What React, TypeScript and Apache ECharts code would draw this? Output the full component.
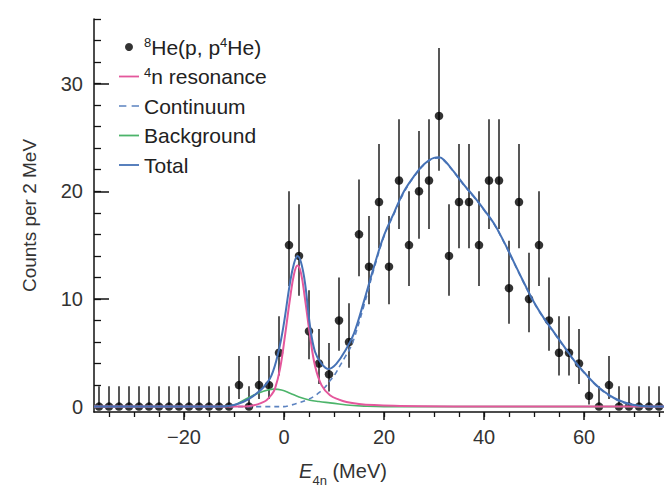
import React, { useEffect, useRef } from "react";
import * as echarts from "echarts";

// ---- data points (bin centres, MeV) ----
const energy = [
  -37, -35, -33, -31, -29, -27, -25, -23, -21, -19, -17, -15, -13, -11,
  -9, -7, -5, -3, -1, 1, 3, 5, 7, 9, 11, 13, 15, 17, 19, 21, 23, 25, 27, 29,
  31, 33, 35, 37, 39, 41, 43, 45, 47, 49, 51, 53, 55, 57, 59, 61, 63, 65, 67,
  69, 71, 73, 75,
];
const counts = [
  0, 0, 0, 0, 0, 0, 0, 0, 0, 0, 0, 0, 0, 0,
  2, 0, 2, 2, 5, 15, 14, 7, 4, 3, 8, 6, 16, 13, 19, 13, 21, 15, 20, 21,
  27, 14, 19, 19, 15, 21, 21, 11, 19, 10, 15, 8, 5, 5, 4, 1, 0, 2, 0,
  0, 0, 0, 0,
];
const barLow = [
  0, 0, 0, 0, 0, 0, 0, 0, 0, 0, 0, 0, 0, 0,
  0.7, 0, 0.7, 0.7, 2.9, 11.2, 10.3, 4.4, 2.1, 1.4, 5.2, 3.6, 12.1, 9.5, 14.7, 9.5, 16.5, 11.2, 15.6, 16.5,
  21.9, 10.3, 14.7, 14.7, 11.2, 16.5, 16.5, 7.7, 14.7, 6.9, 11.2, 5.2, 2.9, 2.9, 2.1, 0.2, 0, 0.7, 0,
  0, 0, 0, 0,
];
const barHigh = [
  1.9, 1.9, 1.9, 1.9, 1.9, 1.9, 1.9, 1.9, 1.9, 1.9, 1.9, 1.9, 1.9, 1.9,
  4.7, 1.9, 4.7, 4.7, 8.4, 20.0, 18.8, 10.8, 7.2, 5.9, 12.0, 9.6, 21.1, 17.7, 24.4, 17.7, 26.7, 20.0, 25.6, 26.7,
  33.3, 18.8, 24.4, 24.4, 20.0, 26.7, 26.7, 15.4, 24.4, 14.3, 20.0, 12.0, 8.4, 8.4, 7.2, 3.3, 1.9, 4.7, 1.9,
  1.9, 1.9, 1.9, 1.9,
];

// ---- fitted curves ----
const resX = [-38, -8, -6, -4.5, -3.5, -2.5, -1.8, -0.8, 0.2, 1.2, 2, 2.7, 3.4, 4.2, 5.2, 6.2, 7.5, 9.2, 11, 12.5, 15, 18, 22, 28, 40, 76];
const resY = [0, 0, 0.12, 0.35, 0.6, 1.1, 1.67, 3.5, 6.6, 10, 12.3, 13.1, 12.4, 10, 6.6, 3.8, 2.0, 1.05, 0.65, 0.43, 0.25, 0.14, 0.07, 0.03, 0, 0];

const bgX = [-38, -12, -10, -8.8, -6.8, -4.5, -2.1, -0.5, 1.2, 3, 5.2, 7, 9.2, 11, 13.2, 16, 20, 76];
const bgY = [0, 0, 0.12, 0.4, 0.9, 1.35, 1.62, 1.55, 1.25, 0.9, 0.6, 0.47, 0.35, 0.25, 0.13, 0.05, 0, 0];

const contX = [-38, 0, 1.2, 2.5, 4.5, 6, 7.2, 8.2, 9.2, 10.2, 11.2, 12.2, 13.2, 14, 16, 18, 20, 22, 24, 26, 28, 30, 31, 32, 34, 36, 38, 40, 42, 44, 46, 48, 50, 52, 54, 56, 58, 60, 62, 64, 66, 68, 70, 72, 74, 76];
const contY = [0, 0, 0.12, 0.28, 0.6, 0.95, 1.36, 1.8, 2.4, 3.0, 3.8, 4.6, 5.4, 6.3, 9.4, 12.8, 15.8, 17.9, 19.9, 21.35, 22.45, 23.05, 23.1, 22.85, 21.75, 20.55, 19.45, 18.25, 16.95, 15.25, 13.35, 11.45, 9.65, 8.15, 6.85, 5.55, 4.25, 3.15, 2.15, 1.35, 0.75, 0.35, 0.1, 0.02, 0, 0];

const totalX = [-38, -14, -12, -10, -8.1, -6.1, -4.1, -2.5, -1.1, -0.1, 1.2, 2, 2.7, 3.4, 4.2, 5.2, 6.2, 7.5, 8.9, 10.5, 12.5, 14, 16, 18, 20, 22, 24, 26, 28, 30, 31, 32, 34, 36, 38, 40, 42, 44, 46, 48, 50, 52, 54, 56, 58, 60, 62, 64, 66, 68, 70, 72, 74, 76];
const totalY = [0, 0, 0.03, 0.15, 0.45, 1.0, 1.8, 2.9, 5.1, 7.5, 11.5, 13.3, 14.0, 13.4, 11.5, 7.5, 5.1, 4.0, 3.5, 4.0, 5.4, 6.8, 9.8, 13.0, 15.9, 18.0, 20.0, 21.4, 22.5, 23.1, 23.15, 22.9, 21.8, 20.6, 19.5, 18.3, 17.0, 15.3, 13.4, 11.5, 9.7, 8.2, 6.9, 5.6, 4.3, 3.2, 2.2, 1.4, 0.8, 0.4, 0.15, 0.05, 0, 0];

// ---- ticks ----
const xMajorTicks = [-20, 0, 20, 40, 60];
const xMinorTicks = [-35, -30, -25, -20, -15, -10, -5, 0, 5, 10, 15, 20, 25, 30, 35, 40, 45, 50, 55, 60, 65, 70, 75];
const yMajorTicks = [0, 10, 20, 30];
const yMinorTicks = [0, 2, 4, 6, 8, 10, 12, 14, 16, 18, 20, 22, 24, 26, 28, 30, 32, 34, 36];

const NAME_DATA = "8He(p, p4He)";
const NAME_RES = "4n resonance";
const NAME_CONT = "Continuum";
const NAME_BG = "Background";
const NAME_TOTAL = "Total";

const FONT = "'Liberation Sans', Arial, Helvetica, sans-serif";
const PINK = "#e4579c";
const BLUE = "#4672b6";
const DASH = "#5b82c0";
const GREEN = "#4cb46a";

const ICON_LINE = "path://M0,0H20V1.8H0Z";
const ICON_DASH = "path://M0,0H7V1.6H0Z M12,0H19V1.6H12Z";

const zip = (xs: number[], ys: number[]) => xs.map((x, i) => [x, ys[i]]);

export default function App() {
  const ref = useRef<HTMLDivElement>(null);
  useEffect(() => {
    if (!ref.current) return;
    const chart = echarts.init(ref.current, undefined, { renderer: "svg" });
    const lineBase = {
      type: "line" as const,
      showSymbol: false,
      symbol: "none",
      smooth: 0.4,
      z: 5,
      silent: true,
    };
    chart.setOption({
      animation: false,
      backgroundColor: "#ffffff",
      textStyle: { fontFamily: FONT },
      grid: { left: 94, right: 0, top: 19, bottom: 78.6, containLabel: false },
      legend: {
        orient: "vertical",
        left: 119,
        top: 36,
        padding: 0,
        itemGap: 7.5,
        itemWidth: 20,
        itemHeight: 8,
        itemStyle: { borderWidth: 0 },
        data: [
          { name: NAME_DATA, icon: "circle", itemStyle: { color: "#000" } },
          { name: NAME_RES, icon: ICON_LINE, itemStyle: { color: PINK } },
          { name: NAME_CONT, icon: ICON_DASH, itemStyle: { color: DASH } },
          { name: NAME_BG, icon: ICON_LINE, itemStyle: { color: GREEN } },
          { name: NAME_TOTAL, icon: ICON_LINE, itemStyle: { color: BLUE } },
        ],
        formatter: (name: string) => {
          if (name === NAME_DATA) return "{sup|8}He(p, p{sup|4}He)";
          if (name === NAME_RES) return "{sup|4}n resonance";
          return name;
        },
        textStyle: {
          fontFamily: FONT,
          fontSize: 21,
          color: "#222",
          lineHeight: 22,
          rich: {
            sup: { fontFamily: FONT, fontSize: 13, color: "#222", lineHeight: 13, verticalAlign: "top" },
          },
        },
      },
      xAxis: [
        {
          type: "value",
          min: -38,
          max: 76,
          position: "bottom",
          axisLine: { show: true, onZero: false, lineStyle: { color: "#111", width: 1.5 } },
          axisTick: { show: true, inside: false, length: 8, customValues: xMajorTicks, lineStyle: { color: "#111", width: 1.5 } },
          axisLabel: {
            customValues: xMajorTicks,
            fontFamily: FONT,
            fontSize: 20,
            color: "#333",
            margin: 15,
            formatter: (v: number) => (v < 0 ? "\u2212" + Math.abs(v) : String(v)),
          },
          splitLine: { show: false },
          name: "{it|E}{sub|4n} (MeV)",
          nameLocation: "middle",
          nameGap: 48,
          nameTextStyle: {
            fontFamily: FONT,
            fontSize: 20,
            color: "#333",
            lineHeight: 22,
            padding: [0, 72, 0, 0],
            rich: {
              it: { fontFamily: FONT, fontSize: 20, fontStyle: "italic", color: "#333", lineHeight: 22 },
              sub: { fontFamily: FONT, fontSize: 13, color: "#333", lineHeight: 13, verticalAlign: "bottom", padding: [0, 0, -5, 0] },
            },
          },
        },
        {
          type: "value",
          min: -38,
          max: 76,
          position: "bottom",
          axisLine: { show: false, onZero: false },
          axisTick: { show: true, inside: false, length: 5, customValues: xMinorTicks, lineStyle: { color: "#111", width: 1.3 } },
          axisLabel: { show: false },
          splitLine: { show: false },
        },
      ],
      yAxis: [
        {
          type: "value",
          min: -0.5,
          max: 36,
          position: "left",
          axisLine: { show: true, onZero: false, lineStyle: { color: "#111", width: 1.5 } },
          axisTick: { show: true, inside: true, length: 15, customValues: yMajorTicks, lineStyle: { color: "#111", width: 1.5 } },
          axisLabel: { customValues: yMajorTicks, fontFamily: FONT, fontSize: 20, color: "#333", margin: 11 },
          splitLine: { show: false },
          name: "Counts per 2 MeV",
          nameLocation: "middle",
          nameGap: 55,
          nameTextStyle: { fontFamily: FONT, fontSize: 19, color: "#333" },
        },
        {
          type: "value",
          min: -0.5,
          max: 36,
          position: "left",
          axisLine: { show: false, onZero: false },
          axisTick: { show: true, inside: true, length: 7, customValues: yMinorTicks, lineStyle: { color: "#111", width: 1.3 } },
          axisLabel: { show: false },
          splitLine: { show: false },
        },
      ],
      series: [
        {
          type: "custom",
          name: "errors",
          z: 1,
          silent: true,
          data: energy.map((e, i) => [e, barLow[i], barHigh[i]]),
          encode: { x: 0, y: [1, 2] },
          renderItem: (params: any, api: any) => {
            const x = api.value(0);
            const p1 = api.coord([x, api.value(1)]);
            const p2 = api.coord([x, api.value(2)]);
            return {
              type: "line",
              shape: { x1: p1[0], y1: p1[1], x2: p2[0], y2: p2[1] },
              style: { stroke: "#3a3a3a", lineWidth: 1.7 },
            };
          },
        },
        {
          type: "scatter",
          name: NAME_DATA,
          z: 2,
          symbol: "circle",
          symbolSize: 8.5,
          itemStyle: { color: "#000" },
          data: zip(energy, counts),
        },
        { ...lineBase, name: NAME_BG, data: zip(bgX, bgY), lineStyle: { color: GREEN, width: 1.6 }, itemStyle: { color: GREEN } },
        { ...lineBase, name: NAME_CONT, data: zip(contX, contY), lineStyle: { color: DASH, width: 1.6, type: [5, 4] }, itemStyle: { color: DASH } },
        { ...lineBase, name: NAME_RES, data: zip(resX, resY), lineStyle: { color: PINK, width: 2 }, itemStyle: { color: PINK } },
        { ...lineBase, name: NAME_TOTAL, data: zip(totalX, totalY), lineStyle: { color: BLUE, width: 2 }, itemStyle: { color: BLUE } },
      ],
    });
    return () => chart.dispose();
  }, []);
  return (
    <div
      ref={ref}
      style={{ position: "fixed", left: 0, top: 0, width: 664, height: 492, background: "#fff" }}
    />
  );
}
